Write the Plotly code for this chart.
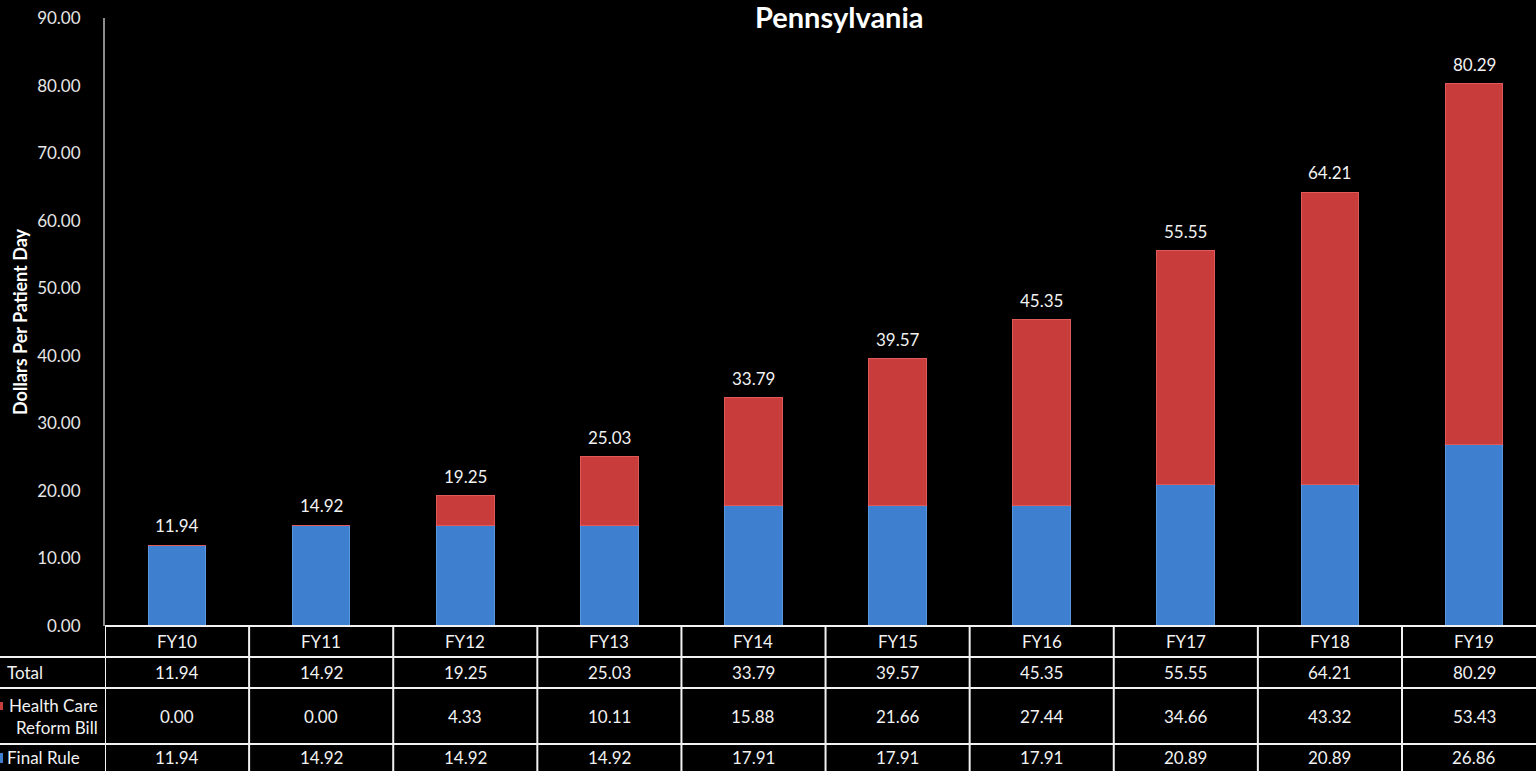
import plotly.graph_objects as go

categories = ["FY10", "FY11", "FY12", "FY13", "FY14", "FY15", "FY16", "FY17", "FY18", "FY19"]
final_rule = [11.94, 14.92, 14.92, 14.92, 17.91, 17.91, 17.91, 20.89, 20.89, 26.86]
health_care_reform = [0.00, 0.00, 4.33, 10.11, 15.88, 21.66, 27.44, 34.66, 43.32, 53.43]
total = [11.94, 14.92, 19.25, 25.03, 33.79, 39.57, 45.35, 55.55, 64.21, 80.29]
row_labels = ["Total", "Health Care<br>Reform Bill", "Final Rule"]
y_ticks = [0, 10, 20, 30, 40, 50, 60, 70, 80, 90]

FONT = "Lato"
W, H = 1536, 771
ML, MR, MT, MB = 105, 0, 18, 145
PH = H - MT - MB
PW = W - ML - MR


def py(pix):
    return (H - MB - pix) / PH


def px(pix):
    return (pix - ML) / PW


BLUE = "#3f7fcf"
RED = "#c93c3c"

fig = go.Figure()
fig.add_trace(go.Bar(x=categories, y=final_rule, name="Final Rule", width=0.4,
                     marker=dict(color=BLUE, line=dict(color="#5b97e0", width=1))))
fig.add_trace(go.Bar(x=categories, y=health_care_reform, name="Health Care Reform Bill", width=0.4,
                     marker=dict(color=RED, line=dict(color="#e05a5a", width=1))))

shapes = []
annotations = []
LINE = dict(color="#f2f2f2", width=2)
row_edges = [626, 657, 688, 744]
row_centers = [672, 716, 757.5]
fy_center = 641

# total labels above bars
for c, v in zip(categories, total):
    annotations.append(dict(x=c, y=v, xref="x", yref="y", text=f"{v:.2f}", showarrow=False,
                            yanchor="bottom", xanchor="center", yshift=7,
                            font=dict(family=FONT, size=17, color="#f2f2f2")))

# table horizontal lines
for i, e in enumerate(row_edges):
    x0 = 0 if i == 0 else px(0)
    shapes.append(dict(type="line", xref="paper", yref="paper", x0=x0, x1=1,
                       y0=py(e), y1=py(e), line=LINE))
# table vertical lines at category boundaries
for k in range(len(categories)):
    shapes.append(dict(type="line", xref="x", yref="paper", x0=k - 0.5, x1=k - 0.5,
                       y0=0, y1=py(H + 2), line=LINE))

# legend keys in table
shapes.append(dict(type="rect", xref="paper", yref="paper", x0=px(0), x1=px(3),
                   y0=py(702), y1=py(710), fillcolor=RED, line=dict(width=0)))
shapes.append(dict(type="rect", xref="paper", yref="paper", x0=px(0), x1=px(3),
                   y0=py(753), y1=py(763), fillcolor=BLUE, line=dict(width=0)))

tf = dict(family=FONT, size=17, color="#f2f2f2")
for c in categories:
    annotations.append(dict(x=c, y=py(fy_center), xref="x", yref="paper", text=c,
                            showarrow=False, font=tf, xanchor="center", yanchor="middle"))
for rows, yc in zip([total, health_care_reform, final_rule], row_centers):
    for c, v in zip(categories, rows):
        annotations.append(dict(x=c, y=py(yc), xref="x", yref="paper", text=f"{v:.2f}",
                                showarrow=False, font=tf, xanchor="center", yanchor="middle"))

annotations.append(dict(x=px(5), y=py(row_centers[0]), xref="paper", yref="paper", text=row_labels[0],
                        showarrow=False, font=tf, xanchor="left", yanchor="middle", align="left"))
annotations.append(dict(x=px(100), y=py(row_centers[1]), xref="paper", yref="paper", text=row_labels[1],
                        showarrow=False, font=tf, xanchor="right", yanchor="middle", align="right"))
annotations.append(dict(x=px(5), y=py(row_centers[2]), xref="paper", yref="paper", text=row_labels[2],
                        showarrow=False, font=tf, xanchor="left", yanchor="middle", align="left"))

# title
annotations.append(dict(x=px(839), y=py(17), xref="paper", yref="paper", text="<b>Pennsylvania</b>",
                        showarrow=False, font=dict(family=FONT, size=29, color="#ffffff"),
                        xanchor="center", yanchor="middle"))
# y-axis title
annotations.append(dict(x=px(20), y=0.5, xref="paper", yref="paper", text="<b>Dollars Per Patient Day</b>",
                        showarrow=False, textangle=-90, font=dict(family=FONT, size=18, color="#ffffff"),
                        xanchor="center", yanchor="middle"))

fig.update_layout(
    width=W, height=H,
    paper_bgcolor="#000000", plot_bgcolor="#000000",
    margin=dict(l=ML, r=MR, t=MT, b=MB, pad=0),
    barmode="stack", showlegend=False,
    shapes=shapes, annotations=annotations,
    xaxis=dict(type="category", categoryorder="array", categoryarray=categories,
               range=[-0.5, 9.43], showticklabels=False, showgrid=False, zeroline=False,
               showline=False, ticks=""),
    yaxis=dict(range=[0, 90], tickvals=y_ticks, ticktext=[f"{v:.2f}" for v in y_ticks],
               showgrid=False, zeroline=False, showline=True, linecolor="#8c8c8c", linewidth=2,
               ticks="", ticklabelstandoff=19,
               tickfont=dict(family=FONT, size=17, color="#e6e6e6")),
)

fig.write_html("out.html", config={"displayModeBar": False},
               post_script="document.body.style.margin='0px';document.body.style.overflow='hidden';")
